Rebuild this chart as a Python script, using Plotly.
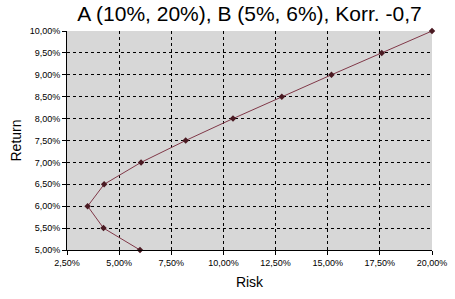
import plotly.graph_objects as go

# Portfolio risk (%) and return (%)
risk = [6.00, 4.25, 3.49, 4.28, 6.05, 8.19, 10.46, 12.80, 15.18, 17.59, 20.00]
ret = [5.0, 5.5, 6.0, 6.5, 7.0, 7.5, 8.0, 8.5, 9.0, 9.5, 10.0]

x_ticks = [2.5, 5.0, 7.5, 10.0, 12.5, 15.0, 17.5, 20.0]
x_labels = ["2,50%", "5,00%", "7,50%", "10,00%", "12,50%", "15,00%", "17,50%", "20,00%"]
y_ticks = [5.0, 5.5, 6.0, 6.5, 7.0, 7.5, 8.0, 8.5, 9.0, 9.5, 10.0]
y_labels = ["5,00%", "5,50%", "6,00%", "6,50%", "7,00%", "7,50%", "8,00%", "8,50%", "9,00%", "9,50%", "10,00%"]

title = "A (10%, 20%), B (5%, 6%), Korr. -0,7"

fig = go.Figure()
fig.add_trace(go.Scatter(
    x=risk, y=ret, mode="lines+markers",
    line=dict(color="#803848", width=1),
    marker=dict(symbol="diamond", size=5, color="#4a1a22"),
    cliponaxis=False, showlegend=False,
))

font = "Liberation Sans, Arial, sans-serif"
fig.update_layout(
    width=455, height=299,
    margin=dict(l=67, r=23, t=31, b=49, autoexpand=False),
    paper_bgcolor="white", plot_bgcolor="#d7d7d7",
    font=dict(family=font, color="black"),
    title=dict(text=title, x=0.5, xanchor="center", y=0.953, yanchor="middle",
               xref="paper", font=dict(size=21, family=font)),
    xaxis=dict(
        range=[2.5, 20], tickvals=x_ticks, ticktext=x_labels, automargin=False,
        tickfont=dict(size=9), showgrid=True, gridcolor="black", griddash="dot", gridwidth=1,
        showline=True, linecolor="black", linewidth=1, ticks="outside", ticklen=4, tickcolor="black",
        zeroline=False, mirror=False,
        title=dict(text="Risk", font=dict(size=14), standoff=10),
    ),
    yaxis=dict(
        range=[5, 10], tickvals=y_ticks, ticktext=y_labels, automargin=False,
        tickfont=dict(size=9), showgrid=True, gridcolor="black", griddash="dot", gridwidth=1,
        showline=True, linecolor="black", linewidth=1, ticks="outside", ticklen=4, tickcolor="black",
        zeroline=False,
        title=dict(text="Return", font=dict(size=14), standoff=4),
    ),
)

fig.write_html("out.html")
